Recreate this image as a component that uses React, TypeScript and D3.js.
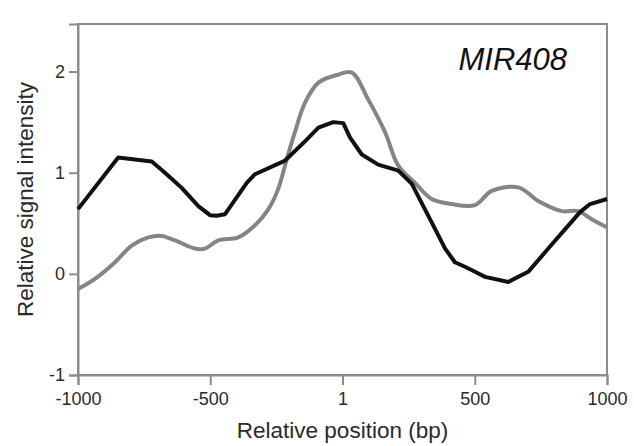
import React, { useEffect, useRef } from "react";
import * as d3 from "d3";

// Relative position (bp) and relative signal intensity for each profile
const blackPos = [-1000, -848, -721, -680, -646, -608, -545, -501, -476, -444, -362, -331, -217, -142, -91, -35, 3, 28, 73, 135, 211, 262, 325, 388, 425, 463, 501, 539, 627, 702, 778, 841, 898, 936, 1000];
const blackVal = [0.64, 1.15, 1.11, 1.02, 0.94, 0.85, 0.67, 0.58, 0.575, 0.59, 0.9, 0.985, 1.12, 1.31, 1.445, 1.5, 1.49, 1.35, 1.18, 1.08, 1.02, 0.89, 0.57, 0.25, 0.115, 0.07, 0.02, -0.03, -0.08, 0.02, 0.25, 0.44, 0.61, 0.69, 0.74];

const grayPos = [-1000, -936, -860, -797, -734, -684, -633, -558, -520, -470, -394, -331, -280, -243, -211, -180, -142, -91, -16, 35, 98, 161, 211, 274, 337, 413, 501, 564, 665, 740, 829, 891, 942, 1000];
const grayVal = [-0.15, -0.05, 0.115, 0.28, 0.36, 0.375, 0.33, 0.25, 0.25, 0.33, 0.36, 0.48, 0.64, 0.84, 1.13, 1.4, 1.69, 1.89, 1.97, 1.99, 1.72, 1.4, 1.07, 0.9, 0.74, 0.69, 0.68, 0.82, 0.855, 0.72, 0.62, 0.62, 0.54, 0.46];

const xTickValues = [-1000, -500, 0, 500, 1000];
const xTickLabels = ["-1000", "-500", "1", "500", "1000"];
const yTickValues = [-1, 0, 1, 2];
const yTickLabels = ["-1", "0", "1", "2"];

const title = "MIR408";
const xTitle = "Relative position (bp)";
const yTitle = "Relative signal intensity";

const W = 634;
const H = 446;
const margin = { left: 78, right: 27, top: 24, bottom: 71 };
const FONT = "'Liberation Sans', Arial, Helvetica, sans-serif";
const AXIS = "#8c8c8c";

export default function App() {
  const ref = useRef<SVGSVGElement | null>(null);

  useEffect(() => {
    const svg = d3.select(ref.current);
    svg.selectAll("*").remove();

    const x = d3.scaleLinear().domain([-1000, 1000]).range([margin.left, W - margin.right]);
    const y = d3.scaleLinear().domain([-1, 2.47]).range([H - margin.bottom, margin.top]);

    svg.append("rect").attr("width", W).attr("height", H).attr("fill", "#fff");

    // frame around the plotting area
    svg.append("rect")
      .attr("x", x(-1000)).attr("y", y(2.47))
      .attr("width", x(1000) - x(-1000)).attr("height", y(-1) - y(2.47))
      .attr("fill", "none").attr("stroke", AXIS).attr("stroke-width", 2);

    const yAxis = svg.append("g")
      .attr("transform", `translate(${x(-1000)},0)`)
      .call(d3.axisLeft(y).tickValues(yTickValues).tickSize(9).tickPadding(4)
        .tickFormat((_d, i) => yTickLabels[i]));
    const xAxis = svg.append("g")
      .attr("transform", `translate(0,${y(-1)})`)
      .call(d3.axisBottom(x).tickValues(xTickValues).tickSize(10).tickPadding(7)
        .tickFormat((_d, i) => xTickLabels[i]));

    [xAxis, yAxis].forEach((g) => {
      g.select(".domain").attr("stroke", AXIS).attr("stroke-width", 2);
      g.selectAll(".tick line").attr("stroke", AXIS).attr("stroke-width", 2);
      g.selectAll(".tick text")
        .attr("fill", "#2a2a2a")
        .style("font-family", FONT)
        .style("font-size", "18px");
    });

    const line = d3.line<[number, number]>()
      .x((d) => x(d[0]))
      .y((d) => y(d[1]));

    const grayData = grayPos.map((p, i) => [p, grayVal[i]] as [number, number]);
    const blackData = blackPos.map((p, i) => [p, blackVal[i]] as [number, number]);

    svg.append("path")
      .attr("d", line.curve(d3.curveCatmullRom.alpha(0.5))(grayData) || "")
      .attr("fill", "none").attr("stroke", "#858585").attr("stroke-width", 4)
      .attr("stroke-linejoin", "round");
    svg.append("path")
      .attr("d", line.curve(d3.curveLinear)(blackData) || "")
      .attr("fill", "none").attr("stroke", "#111").attr("stroke-width", 4)
      .attr("stroke-linejoin", "round");

    svg.append("text")
      .attr("x", 567).attr("y", 70)
      .attr("text-anchor", "end")
      .style("font-family", FONT).style("font-style", "italic").style("font-size", "31px")
      .attr("fill", "#111")
      .text(title);

    svg.append("text")
      .attr("x", (x(-1000) + x(1000)) / 2).attr("y", 438)
      .attr("text-anchor", "middle")
      .style("font-family", FONT).style("font-size", "22.5px")
      .attr("fill", "#2a2a2a")
      .text(xTitle);

    svg.append("text")
      .attr("transform", `translate(33,${(y(-1) + y(2.47)) / 2}) rotate(-90)`)
      .attr("text-anchor", "middle")
      .style("font-family", FONT).style("font-size", "22.5px")
      .attr("fill", "#2a2a2a")
      .text(yTitle);
  }, []);

  return (
    <svg
      ref={ref}
      width={W}
      height={H}
      style={{ position: "absolute", left: 0, top: 0, display: "block" }}
    />
  );
}
